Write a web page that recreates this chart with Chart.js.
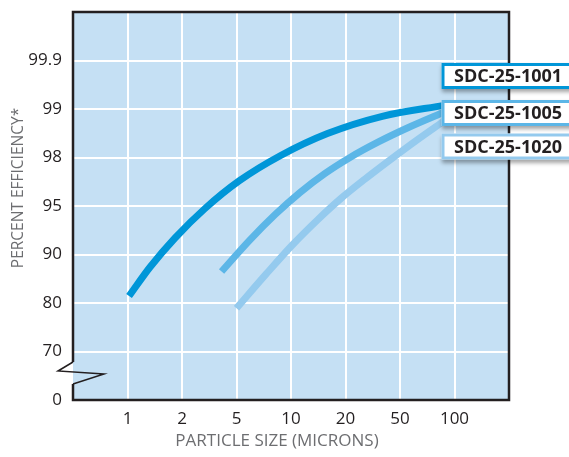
<!DOCTYPE html>
<html>
<head>
<meta charset="utf-8">
<script src="https://cdn.jsdelivr.net/npm/chart.js@4.4.1/dist/chart.umd.min.js"></script>
<style>
  html, body { margin: 0; padding: 0; background: #fff; }
  #wrap { width: 569px; height: 457px; position: relative; }
</style>
</head>
<body>
<div id="wrap"><canvas id="chart"></canvas></div>
<script>
// axis tick values (equally spaced on the printed chart)
const sizeTicks = [1, 2, 5, 10, 20, 50, 100];
const effTicks = [0, 70, 80, 90, 95, 98, 99, 99.9];

const seriesNames = ['SDC-25-1001', 'SDC-25-1005', 'SDC-25-1020'];
const seriesColors = ['#0096d8', '#5cb6e7', '#94caee'];

// particle size (microns) / percent efficiency
const size1001 = [1.02, 1.33, 1.83, 2.93, 5.19, 8.72, 15.9, 37.1, 89];
const eff1001 = [81.9, 88.0, 92.1, 94.8, 96.9, 98.05, 98.58, 98.89, 99.17];

const size1005 = [3.89, 5.9, 8.2, 11.22, 15.36, 21.74, 34.78, 56.42, 88.6];
const eff1005 = [87.25, 91.83, 94.37, 96.13, 97.29, 98.01, 98.4, 98.707, 98.961];

const size1020 = [5.0, 7.3, 10.2, 14.0, 19.0, 27.8, 42.1, 61.4, 89];
const eff1020 = [79.1, 86.8, 91.3, 93.9, 95.7, 97.0, 97.9, 98.43, 98.83];

// size -> position on the x axis (log between neighbouring ticks)
const sizePos = (m) => {
  for (let i = 0; i < sizeTicks.length - 1; i++) {
    if (m <= sizeTicks[i + 1] || i === sizeTicks.length - 2) {
      return i + 1 + Math.log(m / sizeTicks[i]) / Math.log(sizeTicks[i + 1] / sizeTicks[i]);
    }
  }
};

// efficiency -> position on the y axis (log of penetration between ticks)
const effPos = (e) => {
  if (e <= effTicks[1]) return e / effTicks[1];
  for (let j = 1; j < effTicks.length - 1; j++) {
    if (e <= effTicks[j + 1] || j === effTicks.length - 2) {
      const p0 = 100 - effTicks[j], p1 = 100 - effTicks[j + 1];
      return j + Math.log(p0 / (100 - e)) / Math.log(p0 / p1);
    }
  }
};

const toPoints = (sizes, effs) => sizes.map((s, i) => ({ x: sizePos(s), y: effPos(effs[i]) }));

const ink = '#231f20';
const grey = '#6d6e71';
const font = '"Open Sans", "Liberation Sans", sans-serif';

const framePlugin = {
  id: 'frame',
  beforeDraw(chart) {
    const { ctx, chartArea: a } = chart;
    ctx.save();
    ctx.fillStyle = '#c5e0f4';
    ctx.fillRect(a.left, a.top, a.right - a.left, a.bottom - a.top);
    ctx.restore();
  },
  afterDraw(chart) {
    const { ctx, chartArea: a } = chart;
    ctx.save();
    // frame with axis break on the left side
    ctx.strokeStyle = ink;
    ctx.lineWidth = 2.5;
    ctx.lineJoin = 'miter';
    ctx.beginPath();
    ctx.moveTo(a.left, 362);
    ctx.lineTo(a.left, a.top);
    ctx.lineTo(a.right, a.top);
    ctx.lineTo(a.right, a.bottom);
    ctx.lineTo(a.left, a.bottom);
    ctx.lineTo(a.left, 384);
    ctx.stroke();
    ctx.lineWidth = 1.5;
    ctx.beginPath();
    ctx.moveTo(a.left, 362);
    ctx.lineTo(a.left - 15, 371);
    ctx.lineTo(a.left + 31, 374);
    ctx.lineTo(a.left, 384);
    ctx.stroke();

    // axis titles
    ctx.fillStyle = grey;
    ctx.textAlign = 'center';
    ctx.textBaseline = 'middle';
    ctx.font = '17px ' + font;
    ctx.fillText('PARTICLE SIZE (MICRONS)', 277, 441);
    ctx.font = '15.5px ' + font;
    ctx.translate(19, 188);
    ctx.rotate(-Math.PI / 2);
    ctx.fillText('PERCENT EFFICIENCY*', 0, 0);
    ctx.restore();

    // series labels
    const tops = [63, 100, 133.5];
    ctx.save();
    ctx.font = 'bold 18px ' + font;
    ctx.textBaseline = 'middle';
    ctx.textAlign = 'left';
    seriesNames.forEach((name, i) => {
      const y = tops[i];
      ctx.save();
      ctx.shadowColor = 'rgba(0,0,0,0.35)';
      ctx.shadowBlur = 4;
      ctx.shadowOffsetY = 3;
      ctx.fillStyle = '#fff';
      ctx.fillRect(441.5, y, 140, 26);
      ctx.restore();
      ctx.strokeStyle = seriesColors[i];
      ctx.lineWidth = 3;
      ctx.strokeRect(443, y + 1.5, 140, 23);
      ctx.fillStyle = ink;
      ctx.fillText(name, 454, y + 14);
    });
    ctx.restore();
  }
};

const makeSet = (i, sizes, effs) => ({
  label: seriesNames[i],
  data: toPoints(sizes, effs),
  borderColor: seriesColors[i],
  borderWidth: 7,
  borderCapStyle: 'butt',
  pointRadius: 0,
  cubicInterpolationMode: 'monotone',
  fill: false
});

new Chart(document.getElementById('chart'), {
  type: 'line',
  data: {
    datasets: [
      makeSet(0, size1001, eff1001),
      makeSet(1, size1005, eff1005),
      makeSet(2, size1020, eff1020)
    ]
  },
  options: {
    responsive: true,
    maintainAspectRatio: false,
    animation: false,
    devicePixelRatio: 1,
    layout: { padding: { top: 12, right: 60, bottom: 0, left: 0 } },
    plugins: { legend: { display: false }, tooltip: { enabled: false } },
    scales: {
      x: {
        type: 'linear',
        min: 0,
        max: 8,
        afterFit: (s) => { s.height = 57; s.paddingLeft = 0; s.paddingRight = 0; },
        border: { display: false },
        grid: {
          drawTicks: false,
          lineWidth: 2,
          color: (c) => (c.index === 0 || c.index === 8 ? 'rgba(0,0,0,0)' : '#ffffff')
        },
        ticks: {
          stepSize: 1,
          autoSkip: false,
          maxRotation: 0,
          padding: 9,
          color: ink,
          font: { family: font, size: 17 },
          callback: (v) => (v >= 1 && v <= 7 ? String(sizeTicks[v - 1]) : '')
        }
      },
      y: {
        type: 'linear',
        min: 0,
        max: 8,
        afterFit: (s) => { s.width = 73; s.paddingTop = 0; s.paddingBottom = 0; },
        border: { display: false },
        grid: {
          drawTicks: false,
          lineWidth: 2,
          color: (c) => (c.index === 0 || c.index === 8 ? 'rgba(0,0,0,0)' : '#ffffff')
        },
        ticks: {
          stepSize: 1,
          autoSkip: false,
          padding: 11,
          color: ink,
          font: { family: font, size: 17 },
          callback: (v) => (v <= 7 ? String(effTicks[v]) : '')
        }
      }
    }
  },
  plugins: [framePlugin]
});
</script>
</body>
</html>
